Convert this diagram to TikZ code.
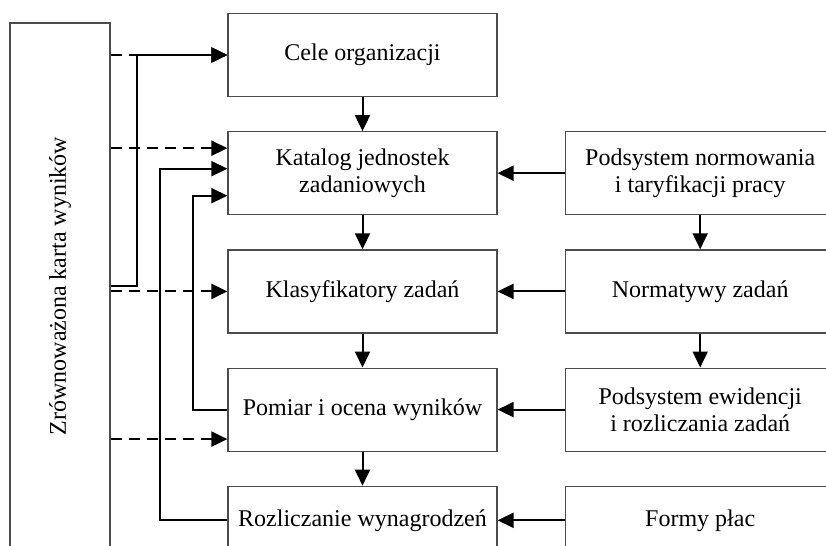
\documentclass[tikz,border=0pt]{standalone}
\usepackage{fontspec}
\setmainfont{Liberation Serif}
\usetikzlibrary{positioning,calc,arrows.meta}

\begin{document}
\begin{tikzpicture}[x=0.5pt,y=-0.5pt,
  font=\fontsize{12}{13.5}\selectfont,
  box/.style={draw=black!70, line width=0.6pt, minimum width=134.5pt,
              minimum height=41.5pt, align=center, inner sep=2pt},
  rbox/.style={box, minimum width=135pt},
  link/.style={line width=1pt, -{Triangle[length=8pt,width=7.5pt]}},
  dlink/.style={link, dash pattern=on 5.5pt off 3.5pt},
  node distance=17pt and 33.5pt]
\clip (0,0) rectangle (826,546);
\node (bsc) [draw=black!70, line width=0.6pt, rotate=90, minimum width=263pt,
             minimum height=50pt] at (60,286) {Zrównoważona karta wyników};
\node (cele) [box] at (362.5,55) {Cele organizacji};
\node (katalog) [box, below=of cele] {Katalog jednostek\\zadaniowych};
\node (klas) [box, below=of katalog] {Klasyfikatory zadań};
\node (pomiar) [box, below=of klas] {Pomiar i ocena wyników};
\node (rozl) [box, below=of pomiar, minimum height=34pt] {Rozliczanie wynagrodzeń};
\node (normow) [rbox, right=of katalog] {Podsystem normowania\\i taryfikacji pracy};
\node (normat) [rbox, right=of klas] {Normatywy zadań};
\node (ewid) [rbox, right=of pomiar] {Podsystem ewidencji\\i rozliczania zadań};
\node (formy) [rbox, right=of rozl, minimum height=34pt] {Formy płac};
\coordinate (k1) at ($(katalog.west)+(0,12.5pt)$);
\coordinate (k2) at ($(katalog.west)+(0,2.25pt)$);
\coordinate (k3) at ($(katalog.west)+(0,-11.25pt)$);
\coordinate (p1) at ($(pomiar.west)+(0,-14.75pt)$);
\draw[dlink] (bsc.south |- cele.west) -- (cele.west);
\draw[dlink] (bsc.south |- k1) -- (k1);
\draw[dlink] (bsc.south |- klas.west) -- (klas.west);
\draw[dlink] (bsc.south |- p1) -- (p1);
\draw[link] (bsc.south) -- ++(13pt,0) |- (cele.west);
\draw[link] (rozl.west) -- ++(-33.5pt,0) |- (k2);
\draw[link] (pomiar.west) -- ++(-17pt,0) |- (k3);
\draw[link] (cele) -- (katalog);
\draw[link] (katalog) -- (klas);
\draw[link] (klas) -- (pomiar);
\draw[link] (pomiar) -- (rozl);
\draw[link] (normow) -- (normat);
\draw[link] (normat) -- (ewid);
\draw[link] (normow) -- (katalog);
\draw[link] (normat) -- (klas);
\draw[link] (ewid) -- (pomiar);
\draw[link] (formy) -- (rozl);
\end{tikzpicture}
\end{document}
